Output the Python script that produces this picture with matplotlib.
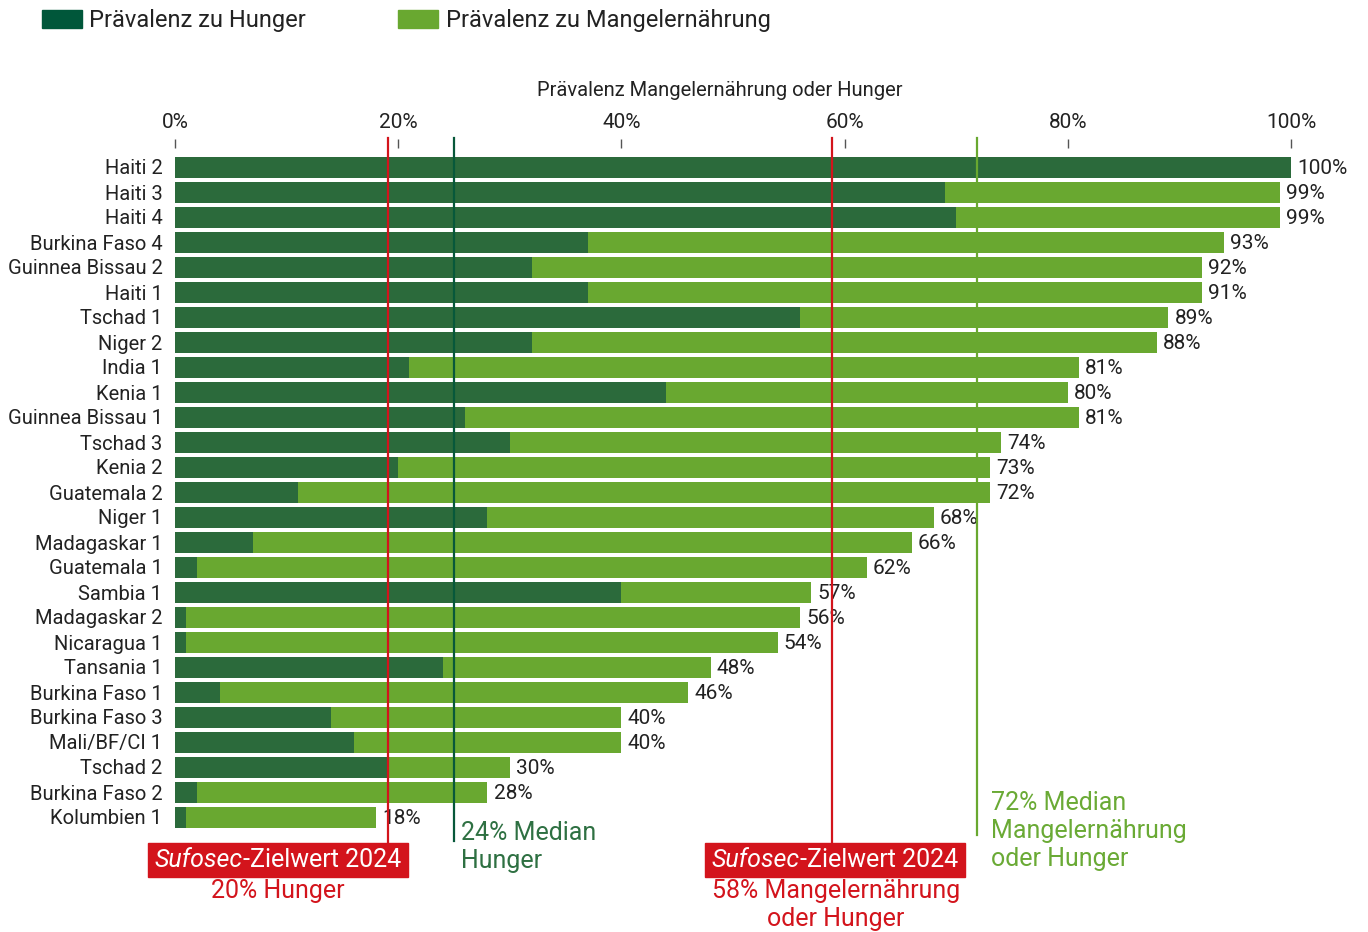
import matplotlib.pyplot as plt
from matplotlib.patches import Rectangle

plt.rcParams['font.family'] = ['Roboto', 'DejaVu Sans']

# data (percent)
labels = ["Haiti 2", "Haiti 3", "Haiti 4", "Burkina Faso 4", "Guinnea Bissau 2",
          "Haiti 1", "Tschad 1", "Niger 2", "India 1", "Kenia 1", "Guinnea Bissau 1",
          "Tschad 3", "Kenia 2", "Guatemala 2", "Niger 1", "Madagaskar 1",
          "Guatemala 1", "Sambia 1", "Madagaskar 2", "Nicaragua 1", "Tansania 1",
          "Burkina Faso 1", "Burkina Faso 3", "Mali/BF/CI 1", "Tschad 2",
          "Burkina Faso 2", "Kolumbien 1"]
hunger = [100, 69, 70, 37, 32, 37, 56, 32, 21, 44, 26, 30, 20, 11, 28, 7,
          2, 40, 1, 1, 24, 4, 14, 16, 19, 2, 1]
# bar length (malnutrition or hunger), as drawn
total = [100, 99, 99, 94, 92, 92, 89, 88, 81, 80, 81, 74, 73, 73, 68, 66,
         62, 57, 56, 54, 48, 46, 40, 40, 30, 28, 18]
# printed value next to each bar
total_text = [100, 99, 99, 93, 92, 91, 89, 88, 81, 80, 81, 74, 73, 72, 68, 66,
              62, 57, 56, 54, 48, 46, 40, 40, 30, 28, 18]
xticks = [0, 20, 40, 60, 80, 100]

# reference lines
target_hunger = 19.1
median_hunger = 25.0
target_total = 58.9
median_total = 71.9

DARK = "#2b6a3b"
LIGHT = "#69a830"
RED = "#d3141c"
LINE_DARK = "#07583a"
TXT = "#222222"

W, H = 1368, 932
fig = plt.figure(figsize=(W / 100, H / 100), dpi=100)
ax = fig.add_axes([175 / W, (H - 829.5) / H, (1291 - 175) / W, (829.5 - 148) / H])

y = list(range(len(labels)))
rest = [t - h for t, h in zip(total, hunger)]
ax.barh(y, hunger, height=0.84, color=DARK, zorder=2)
ax.barh(y, rest, left=hunger, height=0.84, color=LIGHT, zorder=2)

for i, (t, s) in enumerate(zip(total, total_text)):
    ax.text(t + 0.55, i + 0.05, f"{s}%", va="center", ha="left", fontsize=15, color=TXT)

ax.set_xlim(0, 100)
ax.set_ylim(26.5, -0.76)
ax.set_yticks(y)
ax.set_yticklabels(labels, fontsize=14.5, color=TXT)
ax.tick_params(axis="y", length=0, pad=9)
ax.xaxis.tick_top()
ax.set_xticks(xticks)
ax.set_xticklabels([f"{v}%" for v in xticks], fontsize=15, color=TXT)
ax.tick_params(axis="x", length=6.5, width=1, color="#555555", pad=5)
for s in ax.spines.values():
    s.set_visible(False)

# vertical reference lines (go past the axes)
ax.plot([target_hunger] * 2, [-1.16, 27.24], color=RED, lw=1.6, clip_on=False, zorder=3)
ax.plot([median_hunger] * 2, [-1.16, 26.96], color=LINE_DARK, lw=1.6, clip_on=False, zorder=3)
ax.plot([target_total] * 2, [-1.16, 27.24], color=RED, lw=1.6, clip_on=False, zorder=3)
ax.plot([median_total] * 2, [-1.16, 26.7], color=LIGHT, lw=1.6, clip_on=False, zorder=3)

fig.text(720 / W, 1 - 91 / H, "Prävalenz Mangelernährung oder Hunger",
         ha="center", va="center", fontsize=14.5, color=TXT)

# legend
fig.patches.append(Rectangle((42 / W, 1 - 28 / H), 40 / W, 18 / H,
                             transform=fig.transFigure, color="#00573a"))
fig.text(89 / W, 1 - 20 / H, "Prävalenz zu Hunger", va="center", fontsize=17, color=TXT)
fig.patches.append(Rectangle((398 / W, 1 - 28 / H), 40 / W, 18 / H,
                             transform=fig.transFigure, color=LIGHT))
fig.text(446 / W, 1 - 20 / H, "Prävalenz zu Mangelernährung", va="center", fontsize=17, color=TXT)


def zielwert_box(cx, cy):
    r = fig.canvas.get_renderer()
    t1 = fig.text(0, 1 - cy / H, "Sufosec", style="italic", color="white",
                  fontsize=18, va="center", zorder=5)
    t2 = fig.text(0, 1 - cy / H, "-Zielwert 2024", color="white",
                  fontsize=18, va="center", zorder=5)
    w1 = t1.get_window_extent(r).width
    w2 = t2.get_window_extent(r).width
    x0 = cx - (w1 + w2) / 2
    t1.set_x(x0 / W)
    t2.set_x((x0 + w1) / W)
    fig.patches.append(Rectangle(((x0 - 7) / W, 1 - (cy + 17) / H), (w1 + w2 + 14) / W, 34 / H,
                                 transform=fig.transFigure, color=RED, zorder=4))


zielwert_box(278, 860)
fig.text(278 / W, 1 - 891 / H, "20% Hunger", ha="center", va="center", fontsize=18, color=RED)
zielwert_box(835, 860)
fig.text(836 / W, 1 - 905 / H, "58% Mangelernährung\noder Hunger", ha="center", va="center",
         fontsize=18, color=RED, linespacing=1.22)

fig.text(461 / W, 1 - 847 / H, "24% Median\nHunger", ha="left", va="center",
         fontsize=18, color="#2e7042", linespacing=1.22)
fig.text(991 / W, 1 - 831 / H, "72% Median\nMangelernährung\noder Hunger", ha="left", va="center",
         fontsize=18, color="#6aaa35", linespacing=1.22)

fig.savefig("out.png", dpi=100)
